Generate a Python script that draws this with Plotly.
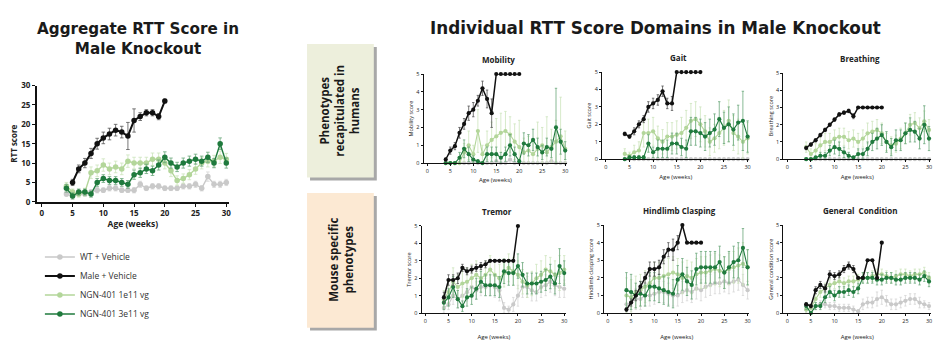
import plotly.graph_objects as go

# page window is 947x360; the html body adds an 8px margin, so the figure is sized to fit inside it
W, H = 931, 344
OFF = 8

# ---------------- data ----------------
weeks = list(range(4, 31))
ko_weeks = list(range(4, 21))
agg_ko_weeks = list(range(5, 21))

x_ticks = [0, 5, 10, 15, 20, 25, 30]
agg_y_ticks = [0, 5, 10, 15, 20, 25, 30]
dom_y_ticks = [0, 1, 2, 3, 4, 5]

# Aggregate RTT score
agg_wt = [2, 1.5, 2, 2, 2.5, 3, 3, 3.5, 3.5, 3, 3, 3, 4.5, 3.5, 4, 4, 3.5, 3.5, 3.5, 4, 4, 4.5, 3.5, 6.5, 4.5, 4.5, 5]
agg_wt_e = [0.6, 0.5, 0.5, 0.6, 0.6, 0.7, 0.6, 0.7, 0.7, 0.6, 0.6, 0.7, 0.8, 0.6, 0.7, 0.7, 0.6, 0.6, 0.6, 0.7, 0.7, 0.8, 0.7, 1.2, 0.8, 0.8, 0.8]
agg_lo = [4, 2.5, 2, 2.5, 7.5, 8, 9.5, 8.5, 9, 8.5, 10.5, 10, 10, 10, 11, 11, 10, 8, 5.5, 6, 7, 8.5, 10, 10.5, 10.5, 11.5, 11]
agg_lo_e = [1.0, 0.8, 0.8, 1.0, 1.5, 1.5, 1.6, 1.5, 1.5, 1.5, 1.6, 1.5, 1.5, 1.5, 1.6, 1.6, 1.5, 1.5, 1.2, 1.2, 1.3, 1.4, 1.5, 1.5, 1.5, 1.6, 1.5]
agg_hi = [3.5, 1.5, 2.5, 2.5, 2, 5, 6, 5.5, 5.5, 5, 4.5, 7, 7.5, 8.5, 8, 9.5, 11.5, 10, 9, 10, 10.5, 11, 10.5, 11.5, 10, 15, 10]
agg_hi_e = [1.0, 0.8, 0.8, 0.8, 0.8, 1.0, 1.0, 1.0, 1.0, 1.0, 1.0, 1.2, 1.2, 1.2, 1.2, 1.3, 1.4, 1.3, 1.2, 1.3, 1.3, 1.3, 1.3, 1.3, 1.2, 1.5, 1.3]
agg_ko = [5, 8.5, 10, 12.5, 15, 16.5, 17.5, 18.5, 18, 17, 21, 22, 23, 23, 22, 26]
agg_ko_e = [0.8, 1.0, 1.2, 1.3, 1.4, 1.5, 1.5, 1.5, 1.5, 3.5, 3.0, 1.0, 0.8, 0.8, 0.8, 0.5]

# Mobility
mob_wt = [0, 0, 0, 0, 0, 0, 0.1, 0, 0, 0, 0, 0.1, 0, 0, 0.2, 0, 0, 0, 0, 0, 0, 0, 0, 0.1, 0, 0, 0]
mob_wt_e = [0, 0, 0, 0, 0, 0, 0.1, 0, 0, 0, 0, 0.1, 0, 0, 0.2, 0, 0, 0, 0, 0, 0, 0, 0, 0.1, 0, 0, 0]
mob_lo = [0, 0, 0, 0, 0.6, 1.0, 0.5, 1.8, 0.5, 1.0, 1.3, 1.5, 1.7, 1.8, 1.6, 1.2, 0.9, 0.6, 0.7, 0.5, 0.8, 1.0, 0.6, 0.9, 1.2, 1.5, 0.8]
mob_lo_e = [0, 0, 0, 0, 0.5, 0.8, 0.5, 1.2, 0.5, 0.8, 1.0, 1.0, 1.1, 1.1, 1.0, 1.0, 1.5, 0.8, 0.8, 0.8, 1.5, 1.0, 2.0, 1.0, 1.2, 2.2, 1.0]
mob_hi = [0, 0, 0, 0.3, 0.8, 0.5, 0.2, 0.1, 0, 0.5, 0.5, 0.5, 0.3, 0.5, 1.0, 0.5, 0.1, 1.1, 1.0, 1.3, 0.9, 0.6, 0.9, 0.8, 2.0, 1.2, 0.7]
mob_hi_e = [0, 0, 0, 0.3, 0.5, 0.4, 0.2, 0.1, 0, 0.4, 0.4, 0.4, 0.3, 0.4, 0.6, 0.4, 0.1, 0.6, 0.6, 0.6, 0.5, 0.4, 0.5, 0.5, 2.2, 0.7, 0.5]
mob_ko = [0.2, 0.7, 0.95, 1.7, 2.2, 2.8, 3.0, 3.5, 4.2, 3.6, 2.8, 5, 5, 5, 5, 5, 5]
mob_ko_e = [0.1, 0.2, 0.2, 0.3, 0.3, 0.4, 0.4, 0.3, 0.4, 0.5, 0.8, 0, 0, 0, 0, 0, 0]

# Gait
gait_wt = [0, 0, 0, 0, 0, 0, 0, 0, 0, 0, 0, 0, 0, 0, 0, 0, 0, 0, 0, 0, 0, 0, 0, 0, 0, 0, 0]
gait_wt_e = [0, 0, 0, 0, 0, 0, 0, 0, 0, 0, 0, 0, 0, 0, 0, 0, 0, 0, 0, 0, 0, 0, 0, 0, 0, 0, 0]
gait_lo = [0.3, 0.2, 0.4, 0.5, 1.5, 1.5, 1.6, 1.2, 1.0, 1.3, 1.3, 1.4, 1.5, 1.8, 2.2, 2.3, 2.0, 1.6, 1.0, 1.2, 1.5, 1.8, 2.2, 1.5, 1.3, 1.0, 1.2]
gait_lo_e = [0.3, 0.2, 0.4, 0.5, 0.8, 0.8, 0.8, 0.7, 0.7, 0.8, 0.8, 0.8, 0.9, 1.0, 1.0, 1.0, 1.0, 0.9, 0.8, 0.8, 0.9, 1.0, 1.2, 1.0, 1.0, 1.0, 0.9]
gait_hi = [0, 0.1, 0.1, 0.1, 0.1, 0.9, 0.4, 0.6, 0.6, 0.6, 0.9, 0.9, 0.7, 0.6, 1.6, 1.6, 1.5, 1.3, 1.5, 1.7, 2.3, 1.8, 2.0, 1.7, 2.1, 2.2, 1.3]
gait_hi_e = [0, 0.1, 0.1, 0.1, 0.1, 0.5, 0.3, 0.5, 0.5, 0.5, 0.6, 0.6, 0.5, 0.5, 0.8, 0.8, 0.8, 0.8, 0.8, 0.9, 1.0, 0.9, 1.0, 0.9, 1.0, 1.7, 0.9]
gait_ko = [1.45, 1.3, 1.6, 2.0, 2.3, 3.0, 3.2, 3.4, 3.9, 3.2, 3.2, 5, 5, 5, 5, 5, 5]
gait_ko_e = [0.1, 0.1, 0.2, 0.2, 0.2, 0.3, 0.3, 0.3, 0.3, 0.3, 0.4, 0, 0, 0, 0, 0, 0]

# Breathing
br_wt = [0, 0, 0, 0, 0, 0, 0, 0, 0, 0, 0, 0, 0, 0, 0, 0, 0, 0, 0, 0, 0, 0, 0, 0, 0, 0, 0]
br_wt_e = [0, 0, 0, 0, 0, 0, 0, 0, 0, 0, 0, 0, 0, 0, 0, 0, 0, 0, 0, 0, 0, 0, 0, 0, 0, 0, 0]
br_lo = [0.7, 0.3, 0.5, 0.8, 1.0, 1.0, 1.2, 1.3, 1.3, 1.1, 1.2, 1.0, 1.2, 1.5, 1.6, 1.7, 1.5, 1.0, 0.8, 0.9, 1.2, 1.5, 2.0, 2.1, 1.8, 2.2, 1.7]
br_lo_e = [0.3, 0.3, 0.4, 0.5, 0.5, 0.5, 0.5, 0.5, 0.5, 0.5, 0.5, 0.5, 0.5, 0.6, 0.6, 0.6, 0.6, 0.5, 0.5, 0.5, 0.6, 0.6, 0.6, 0.6, 0.6, 0.6, 0.6]
br_hi = [0, 0, 0.1, 0.2, 0.2, 0.5, 0.7, 0.6, 0.4, 0.2, 0.1, 0.3, 0.3, 0.6, 1.0, 1.2, 1.4, 1.0, 0.7, 1.1, 1.1, 1.5, 1.7, 1.6, 1.2, 2.0, 1.2]
br_hi_e = [0, 0, 0.1, 0.2, 0.2, 0.3, 0.4, 0.4, 0.3, 0.2, 0.1, 0.3, 0.3, 0.4, 0.5, 0.6, 0.6, 0.6, 0.5, 0.6, 0.6, 0.6, 0.7, 0.6, 0.6, 1.1, 0.7]
br_ko = [0.65, 0.85, 1.1, 1.4, 1.7, 2.0, 2.3, 2.6, 2.7, 2.8, 2.5, 3, 3, 3, 3, 3, 3]
br_ko_e = [0.1, 0.1, 0.1, 0.1, 0.1, 0.1, 0.1, 0.1, 0.1, 0.1, 0.15, 0, 0, 0, 0, 0, 0]

# Tremor
tr_wt = [0.3, 0.5, 1.0, 0.8, 1.0, 1.2, 1.5, 1.3, 1.5, 1.5, 1.6, 1.5, 1.3, 0.3, 0.2, 0.5, 1.0, 1.5, 1.5, 1.3, 1.2, 1.5, 1.6, 1.8, 1.6, 1.5, 1.4]
tr_wt_e = [0.3, 0.3, 0.5, 0.5, 0.5, 0.5, 0.6, 0.5, 0.5, 0.5, 0.6, 0.6, 0.6, 0.3, 0.2, 0.4, 0.6, 0.6, 0.6, 0.6, 0.5, 0.6, 0.6, 0.6, 0.6, 0.6, 0.5]
tr_lo = [0.8, 1.2, 1.8, 1.5, 1.7, 1.8, 2.0, 2.2, 2.0, 2.2, 2.5, 2.2, 2.0, 2.3, 2.6, 2.4, 2.2, 1.8, 1.6, 1.7, 2.0, 2.2, 2.5, 2.4, 2.2, 2.3, 2.5]
tr_lo_e = [0.5, 0.6, 0.8, 0.7, 0.8, 0.8, 0.8, 0.8, 0.8, 0.8, 0.8, 0.8, 0.8, 0.8, 0.8, 0.8, 0.8, 0.7, 0.7, 0.7, 0.8, 0.8, 0.8, 0.8, 0.8, 1.0, 0.8]
tr_hi = [0.6, 0.9, 1.5, 0.8, 0.4, 0.9, 1.0, 1.4, 1.8, 1.6, 1.6, 1.6, 1.5, 2.4, 2.3, 2.3, 2.7, 2.2, 1.7, 1.7, 1.7, 1.8, 1.9, 2.1, 1.7, 2.7, 2.3]
tr_hi_e = [0.4, 0.5, 0.6, 0.5, 0.3, 0.5, 0.5, 0.6, 0.6, 0.6, 0.6, 0.6, 0.6, 0.7, 0.7, 0.7, 0.7, 0.7, 0.6, 0.6, 0.6, 0.6, 0.6, 0.7, 0.6, 1.0, 0.7]
tr_ko = [0.9, 1.9, 1.9, 2.0, 2.6, 2.4, 2.5, 2.6, 2.7, 2.8, 3.0, 3.0, 3.0, 3.0, 3.0, 3.0, 5.0]
tr_ko_e = [0.3, 0.3, 0.3, 0.3, 0.2, 0.2, 0.2, 0.2, 0.2, 0.2, 0, 0, 0, 0, 0, 0, 0]

# Hindlimb clasping
hl_wt = [0.5, 0.6, 0.8, 0.8, 1.0, 1.0, 1.1, 1.2, 1.2, 1.1, 1.0, 1.0, 1.2, 1.3, 1.2, 1.4, 1.3, 1.5, 1.6, 1.7, 1.7, 1.8, 1.7, 1.8, 1.9, 1.6, 1.3]
hl_wt_e = [0.5, 0.5, 0.6, 0.6, 0.6, 0.6, 0.6, 0.6, 0.6, 0.6, 0.6, 0.6, 0.6, 0.6, 0.6, 0.6, 0.6, 0.6, 0.6, 0.6, 0.6, 0.6, 0.6, 0.6, 0.6, 0.6, 0.5]
hl_lo = [1.0, 0.9, 1.2, 1.3, 1.5, 1.7, 2.0, 2.0, 2.1, 2.2, 2.3, 2.2, 2.0, 2.1, 2.0, 2.2, 2.3, 2.3, 2.4, 2.5, 2.4, 2.3, 2.5, 2.6, 2.7, 2.8, 2.6]
hl_lo_e = [1.0, 1.0, 0.9, 0.9, 0.9, 0.9, 0.9, 0.9, 0.9, 0.9, 0.9, 0.9, 0.9, 0.9, 0.9, 0.9, 0.9, 0.9, 0.9, 0.9, 0.9, 0.9, 0.9, 0.9, 1.0, 1.2, 1.0]
hl_hi = [1.3, 1.2, 1.0, 1.1, 1.0, 1.5, 1.5, 1.4, 1.3, 1.2, 1.1, 1.9, 2.2, 1.8, 1.6, 2.5, 2.6, 2.6, 2.6, 2.6, 2.9, 2.3, 2.6, 2.9, 3.0, 3.7, 2.6]
hl_hi_e = [1.0, 1.0, 0.7, 0.7, 0.6, 0.8, 0.8, 0.8, 0.8, 0.8, 0.8, 0.8, 0.9, 0.8, 0.8, 0.9, 0.9, 0.9, 0.9, 0.9, 0.9, 0.9, 0.9, 0.9, 1.0, 1.1, 1.0]
hl_ko = [0.2, 0.6, 1.0, 1.5, 2.0, 2.5, 2.5, 2.6, 3.2, 3.6, 3.6, 4.0, 5.0, 4.0, 4.0, 4.0, 4.0]
hl_ko_e = [0.1, 0.2, 0.3, 0.3, 0.3, 0.4, 0.4, 0.4, 0.4, 0.4, 0.6, 0.4, 0, 0, 0, 0, 0]

# General condition
gc_wt = [0.2, 0.3, 0.4, 0.5, 0.5, 0.4, 0.4, 0.3, 0.3, 0.3, 0.2, 0.1, 0.5, 0.6, 0.6, 0.8, 0.9, 0.7, 0.5, 0.5, 0.6, 0.7, 0.8, 0.8, 0.6, 0.5, 0.4]
gc_wt_e = [0.2, 0.2, 0.2, 0.2, 0.2, 0.2, 0.2, 0.2, 0.2, 0.2, 0.2, 0.1, 0.3, 0.3, 0.3, 0.4, 0.4, 0.3, 0.3, 0.3, 0.3, 0.3, 0.3, 0.3, 0.3, 0.2, 0.2]
gc_lo = [0.2, 0.3, 0.8, 1.2, 1.4, 1.6, 1.7, 1.8, 1.7, 1.8, 1.8, 1.9, 2.0, 2.0, 2.1, 2.2, 2.2, 2.1, 2.0, 2.1, 2.2, 2.2, 2.1, 2.2, 2.2, 2.3, 2.0]
gc_lo_e = [0.2, 0.2, 0.3, 0.3, 0.3, 0.3, 0.3, 0.3, 0.3, 0.3, 0.3, 0.3, 0.3, 0.3, 0.3, 0.3, 0.3, 0.3, 0.3, 0.3, 0.3, 0.3, 0.3, 0.3, 0.3, 0.3, 0.3]
gc_hi = [0.4, 0, 0.4, 0.4, 0.9, 1.2, 1.0, 1.2, 1.2, 1.3, 1.2, 1.4, 2.0, 2.0, 2.0, 1.9, 1.9, 2.0, 2.0, 1.9, 1.9, 2.0, 2.0, 2.0, 1.9, 2.1, 1.8]
gc_hi_e = [0.2, 0, 0.2, 0.2, 0.3, 0.3, 0.3, 0.3, 0.3, 0.3, 0.3, 0.3, 0.3, 0.3, 0.3, 0.3, 0.3, 0.3, 0.3, 0.3, 0.3, 0.3, 0.3, 0.3, 0.3, 0.3, 0.3]
gc_ko = [0.5, 0.4, 1.3, 1.6, 1.4, 2.2, 2.1, 2.2, 2.5, 2.7, 2.5, 2.0, 2.0, 3.0, 3.0, 2.0, 4.0]
gc_ko_e = [0.1, 0.1, 0.2, 0.2, 0.2, 0.2, 0.2, 0.2, 0.2, 0.2, 0.2, 0, 0, 0, 0, 0, 0]

series_names = ["WT + Vehicle", "Male + Vehicle", "NGN-401 1e11 vg", "NGN-401 3e11 vg"]

# ---------------- style ----------------
COL = {"wt": "#c9c9c9", "ko": "#111111", "lo": "#b3d69a", "hi": "#1f7a3d"}
ECOL = {"wt": "#d6d6d6", "ko": "#555555", "lo": "#cde5bc", "hi": "#6aa77a"}
NAME = {"wt": series_names[0], "ko": series_names[1], "lo": series_names[2], "hi": series_names[3]}
RANK = {"wt": 1, "ko": 2, "lo": 3, "hi": 4}
FONT = "Open Sans"
TFONT = "DejaVu Sans"


def fx(p):
    return (p - OFF) / W


def fy(p):
    return 1 - (p - OFF) / H


fig = go.Figure()

panels = [
    dict(i=1, title=None, ytitle="RTT score", L=37, R=227, B=202, T=82, ymax=30, yt=agg_y_ticks, so=4,
         s={"wt": (weeks, agg_wt, agg_wt_e), "lo": (weeks, agg_lo, agg_lo_e),
            "hi": (weeks, agg_hi, agg_hi_e), "ko": (agg_ko_weeks, agg_ko, agg_ko_e)}),
    dict(i=2, title="Mobility", ytitle="Mobility score", L=425, R=567, B=162, T=70, ymax=5, yt=dom_y_ticks, so=3,
         s={"wt": (weeks, mob_wt, mob_wt_e), "lo": (weeks, mob_lo, mob_lo_e),
            "hi": (weeks, mob_hi, mob_hi_e), "ko": (ko_weeks, mob_ko, mob_ko_e)}),
    dict(i=3, title="Gait", ytitle="Gait score", L=604, R=750, B=158, T=68, ymax=5, yt=dom_y_ticks, so=4,
         s={"wt": (weeks, gait_wt, gait_wt_e), "lo": (weeks, gait_lo, gait_lo_e),
            "hi": (weeks, gait_hi, gait_hi_e), "ko": (ko_weeks, gait_ko, gait_ko_e)}),
    dict(i=4, title="Breathing", ytitle="Breathing score", L=786, R=932, B=158, T=69, ymax=5, yt=dom_y_ticks, so=4,
         s={"wt": (weeks, br_wt, br_wt_e), "lo": (weeks, br_lo, br_lo_e),
            "hi": (weeks, br_hi, br_hi_e), "ko": (ko_weeks, br_ko, br_ko_e)}),
    dict(i=5, title="Tremor", ytitle="Tremor score", L=423, R=566, B=317, T=227, ymax=5, yt=dom_y_ticks, so=10,
         s={"wt": (weeks, tr_wt, tr_wt_e), "lo": (weeks, tr_lo, tr_lo_e),
            "hi": (weeks, tr_hi, tr_hi_e), "ko": (ko_weeks, tr_ko, tr_ko_e)}),
    dict(i=6, title="Hindlimb Clasping", ytitle="Hindlimb clasping score", L=606, R=750, B=317, T=226, ymax=5, yt=dom_y_ticks, so=10,
         s={"wt": (weeks, hl_wt, hl_wt_e), "lo": (weeks, hl_lo, hl_lo_e),
            "hi": (weeks, hl_hi, hl_hi_e), "ko": (ko_weeks, hl_ko, hl_ko_e)}),
    dict(i=7, title="General  Condition", ytitle="General condition score", L=786, R=932, B=317, T=226, ymax=5, yt=dom_y_ticks, so=10,
         s={"wt": (weeks, gc_wt, gc_wt_e), "lo": (weeks, gc_lo, gc_lo_e),
            "hi": (weeks, gc_hi, gc_hi_e), "ko": (ko_weeks, gc_ko, gc_ko_e)}),
]

XMIN, XMAX = -0.8, 30.4
annotations = []
for p in panels:
    i = p["i"]
    main = i == 1
    xa = "x" if i == 1 else f"x{i}"
    ya = "y" if i == 1 else f"y{i}"
    scale = (p["R"] - p["L"]) / (30 - XMIN)
    right = p["R"] + (XMAX - 30) * scale
    for key in ["wt", "lo", "hi", "ko"]:
        xs, ys, es = p["s"][key]
        fig.add_trace(go.Scatter(
            x=xs, y=ys, mode="lines+markers", xaxis=xa, yaxis=ya,
            name=NAME[key], legendrank=RANK[key], showlegend=main,
            line=dict(color=COL[key], width=(2.0 if main else 1.5) if key == "ko" else (1.4 if main else 1.1)),
            marker=dict(color=COL[key], size=(5.5 if main else 4.2), symbol="circle"),
            error_y=dict(type="data", array=es, visible=True, color=ECOL[key],
                         thickness=0.8, width=(1.8 if main else 1.2)),
            cliponaxis=False,
        ))
    tf = dict(family=FONT, size=8 if main else 5.5, color="#222", weight="bold" if main else "normal")
    fig.layout[("xaxis" if i == 1 else f"xaxis{i}")] = dict(
        domain=[fx(p["L"]), fx(right)], range=[XMIN, XMAX], anchor=ya,
        showline=True, linecolor="#111", linewidth=1.8 if main else 1.3,
        ticks="outside", ticklen=3 if main else 2, tickwidth=1.3 if main else 1, tickcolor="#111",
        tickvals=x_ticks, tickfont=tf, showgrid=False, zeroline=False,
        title=dict(text="Age (weeks)", font=dict(family=FONT, size=8.5 if main else 6, color="#222", weight="bold" if main else "normal"),
                   standoff=p["so"]),
    )
    fig.layout[("yaxis" if i == 1 else f"yaxis{i}")] = dict(
        domain=[fy(p["B"]), fy(p["T"])], range=[0, p["ymax"]], anchor=xa,
        showline=True, linecolor="#111", linewidth=1.8 if main else 1.3,
        ticks="outside", ticklen=3 if main else 2, tickwidth=1.3 if main else 1, tickcolor="#111",
        tickvals=p["yt"], tickfont=tf, showgrid=False, zeroline=False,
        title=dict(text=p["ytitle"], font=dict(family=FONT, size=8 if main else 5.5, color="#222", weight="bold" if main else "normal"),
                   standoff=3 if main else 2),
    )
    if p["title"]:
        annotations.append(dict(
            text=p["title"], x=fx((p["L"] + right) / 2 + 3), y=fy(p["T"] - 15), xref="paper", yref="paper",
            showarrow=False, xanchor="center", yanchor="middle",
            font=dict(family=FONT, size=8, color="#222", weight="bold"),
        ))

# Titles
annotations.append(dict(text="Aggregate RTT Score in<br>Male Knockout", x=fx(138), y=fy(34), xref="paper", yref="paper",
                        showarrow=False, xanchor="center", yanchor="middle",
                        font=dict(family=TFONT, size=15.2, color="#1a1a1a", weight="bold")))
annotations.append(dict(text="Individual RTT Score Domains in Male Knockout", x=fx(658), y=fy(22), xref="paper", yref="paper",
                        showarrow=False, xanchor="center", yanchor="middle",
                        font=dict(family=TFONT, size=16.8, color="#1a1a1a", weight="bold")))
# Side boxes text
annotations.append(dict(text="Phenotypes<br>recapitulated in<br>humans", x=fx(341), y=fy(108), xref="paper", yref="paper",
                        showarrow=False, xanchor="center", yanchor="middle", textangle=-90,
                        font=dict(family=FONT, size=11.5, color="#1a1a1a", weight="bold")))
annotations.append(dict(text="Mouse specific<br>phenotypes", x=fx(342), y=fy(262), xref="paper", yref="paper",
                        showarrow=False, xanchor="center", yanchor="middle", textangle=-90,
                        font=dict(family=FONT, size=11.5, color="#1a1a1a", weight="bold")))

shapes = []
for (x0, y0, x1, y1, col) in [(308, 39, 375, 177, "#edefdc"), (308, 193, 375, 332, "#fce9d3")]:
    shapes.append(dict(type="rect", xref="paper", yref="paper", x0=fx(x0 + 3), x1=fx(x1 + 3), y0=fy(y1 + 3), y1=fy(y0 + 3),
                       fillcolor="#a8a8a8", line=dict(width=0), layer="below"))
    shapes.append(dict(type="rect", xref="paper", yref="paper", x0=fx(x0), x1=fx(x1), y0=fy(y1), y1=fy(y0),
                       fillcolor=col, line=dict(width=0), layer="below"))

fig.update_layout(
    width=W, height=H, margin=dict(l=0, r=0, t=0, b=0),
    paper_bgcolor="white", plot_bgcolor="white",
    annotations=annotations, shapes=shapes,
    showlegend=True,
    legend=dict(x=fx(40), y=fy(244), xanchor="left", yanchor="top", bgcolor="rgba(0,0,0,0)",
                font=dict(family=FONT, size=8.5, color="#333"), itemwidth=30, tracegroupgap=0,
                traceorder="normal"),
)

fig.write_html("out.html")
